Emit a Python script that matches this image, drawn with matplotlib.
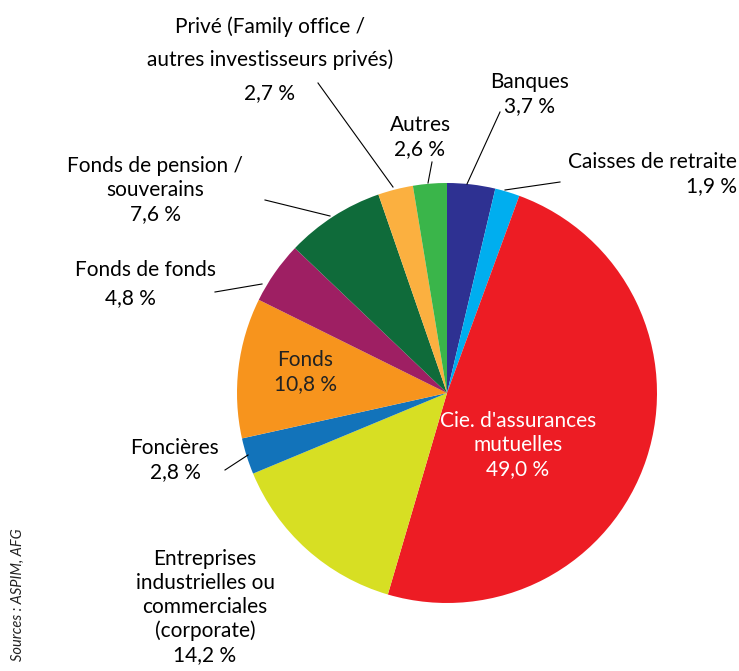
import matplotlib.pyplot as plt

plt.rcParams['font.family'] = ['Lato', 'DejaVu Sans']

# Data
labels = ["Banques", "Caisses de retraite", "Cie. d'assurances\nmutuelles",
          "Entreprises\nindustrielles ou\ncommerciales\n(corporate)", "Foncières",
          "Fonds", "Fonds de fonds", "Fonds de pension /\nsouverains",
          "Privé (Family office /", "Autres"]
prive_line2 = "autres investisseurs privés)"
values = [3.7, 1.9, 49.0, 14.2, 2.8, 10.8, 4.8, 7.6, 2.7, 2.6]
colors = ["#2e3192", "#00aeef", "#ed1c24", "#d7df23", "#1273ba",
          "#f7941d", "#9e1f63", "#0f6b3a", "#fbb040", "#3ab54a"]

W, H = 739, 671
fig = plt.figure(figsize=(W / 100, H / 100), dpi=100)
ax = fig.add_axes([0, 0, 1, 1])

cx, cy, r = 447, H - 393, 210
ax.pie(values, colors=colors, startangle=90, counterclock=False,
       center=(cx, cy), radius=r, wedgeprops=dict(linewidth=0))
ax.set_xlim(0, W)
ax.set_ylim(0, H)
ax.set_aspect('equal')
ax.axis('off')


def pct(v):
    return f"{v:.1f}".replace(".", ",") + " %"


def txt(x, y, s, **kw):
    kw.setdefault("ha", "center")
    ax.text(x, H - y, s, va="center", fontsize=15, linespacing=1.25, **kw)


def leader(x1, y1, x2, y2):
    ax.plot([x1, x2], [H - y1, H - y2], color="black", lw=0.8)


# labels (pixel positions)
txt(270, 27, labels[8])
txt(270, 60, prive_line2)
txt(270, 93, pct(values[8]))
leader(318, 83, 393, 187)

txt(420, 137, labels[9] + "\n" + pct(values[9]))
leader(432, 162, 428, 183)

txt(530, 94, labels[0] + "\n" + pct(values[0]))
leader(500, 112, 467, 184)

txt(737, 174, labels[1] + "\n" + pct(values[1]), ha="right")
leader(505, 190, 560, 182)

txt(155, 190, labels[7] + "\n" + pct(values[7]))
leader(265, 200, 330, 216)

txt(75, 270, labels[6], ha="left")
txt(130, 298, pct(values[6]))
leader(215, 292, 262, 284)

txt(305, 372, labels[5] + "\n" + pct(values[5]), color="#222222")

txt(175, 460, labels[4] + "\n" + pct(values[4]))
leader(225, 470, 248, 455)

txt(518, 445, labels[2] + "\n" + pct(values[2]), color="white")

txt(205, 607, labels[3] + "\n" + pct(values[3]))

ax.text(18, H - 595, "Sources : ASPIM, AFG", rotation=90, style="italic",
        fontsize=10.5, ha="center", va="center", color="#222222")

fig.savefig("out.png", dpi=100)
